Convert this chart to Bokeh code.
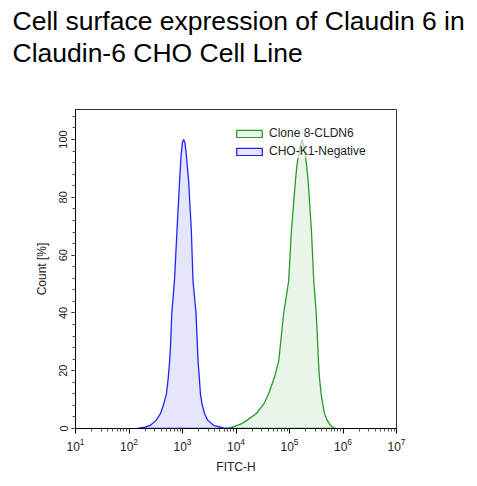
import numpy as np
from bokeh.plotting import figure
from bokeh.models import (Title, Legend, LegendItem, FixedTicker, SingleIntervalTicker,
                          Range1d, LogTickFormatter)
from bokeh.embed import file_html
from bokeh.resources import INLINE

# Histogram outlines: log10(FITC-H) and Count [%]
neg_log = [2.15, 2.21, 2.30, 2.40, 2.51, 2.59, 2.65, 2.70, 2.735, 2.76, 2.775, 2.80,
           2.85, 2.897, 2.946, 2.975, 3.00, 3.021, 3.045, 3.07, 3.114, 3.165, 3.196,
           3.253, 3.28, 3.29, 3.314, 3.335, 3.365, 3.41, 3.47, 3.58, 3.77, 3.95]
neg_count = [0.0, 0.2, 0.5, 1.1, 2.9, 5.2, 8.5, 12.0, 17.8, 23.5, 28.1, 39.8,
             51.2, 68.5, 85.8, 95.0, 99.0, 100.0, 99.0, 95.0, 85.8, 68.5, 51.2,
             39.8, 28.1, 23.5, 17.8, 12.0, 8.5, 5.2, 2.9, 1.1, 0.2, 0.0]

pos_log = [3.85, 3.89, 4.02, 4.11, 4.21, 4.38, 4.52, 4.61, 4.72, 4.80, 4.825, 4.89,
           4.985, 5.036, 5.111, 5.142, 5.19, 5.236, 5.28, 5.317, 5.348, 5.41, 5.453,
           5.50, 5.53, 5.54, 5.559, 5.591, 5.621, 5.653, 5.703, 5.765, 5.83, 5.87]
pos_count = [0.0, 0.2, 1.1, 1.7, 2.9, 5.2, 8.5, 12.0, 17.8, 23.5, 28.1, 39.7,
             51.2, 68.5, 85.8, 91.6, 97.0, 100.0, 97.0, 91.6, 85.8, 68.5, 51.2,
             39.7, 28.1, 23.5, 17.8, 12.0, 8.5, 5.2, 2.9, 1.1, 0.2, 0.0]

series_names = ["Clone 8-CLDN6", "CHO-K1-Negative"]
decades = [1, 2, 3, 4, 5, 6, 7]

FONT = "Liberation Sans"

p = figure(width=477, height=486, x_axis_type="log", output_backend="svg",
           toolbar_location=None, title=None,
           x_range=Range1d(10 ** decades[0], 10 ** decades[-1]),
           y_range=Range1d(0, 110.4),
           min_border_left=75, min_border_right=81, min_border_top=109,
           min_border_bottom=58)
p.background_fill_color = "white"
p.border_fill_color = "white"
p.outline_line_color = "#333333"
p.outline_line_width = 1
p.grid.visible = False

# Two-line title at the top-left of the page, separated from the plot frame
# by a blank spacer band
spacer = Title(text=" ", text_font_size="1px", standoff=39)
t2 = Title(text="Claudin-6 CHO Cell Line", text_font=FONT, text_font_size="26.5px",
           text_font_style="normal", text_color="black", align="left", offset=-63,
           standoff=0)
t1 = Title(text="Cell surface expression of Claudin 6 in", text_font=FONT,
           text_font_size="26.5px", text_font_style="normal", text_color="black",
           align="left", offset=-63, standoff=0)
p.add_layout(spacer, "above")
p.add_layout(t2, "above")
p.add_layout(t1, "above")

px = [10 ** v for v in pos_log]
nx = [10 ** v for v in neg_log]

r_pos = p.patch(px, pos_count, fill_color="#e9f5e9", fill_alpha=1.0,
                line_color="#2a9a2a", line_width=1.3)
r_neg = p.patch(nx, neg_count, fill_color="#e6e6fb", fill_alpha=1.0,
                line_color="#2222ff", line_width=1.3)

# X axis (log decades)
xa = p.xaxis[0]
xa.ticker = FixedTicker(ticks=[10 ** d for d in decades],
                        minor_ticks=[k * 10 ** d for d in decades[:-1] for k in range(2, 10)])
xa.formatter = LogTickFormatter()
xa.axis_label = "FITC-H"
xa.axis_label_text_font = FONT
xa.axis_label_text_font_size = "12px"
xa.axis_label_text_font_style = "normal"
xa.axis_label_text_color = "#222222"
xa.axis_label_standoff = 6
xa.major_label_text_font = FONT
xa.major_label_text_font_size = "12px"
xa.major_label_text_color = "#222222"
xa.major_label_standoff = 4
xa.major_tick_in = 0
xa.major_tick_out = 5
xa.minor_tick_in = 0
xa.minor_tick_out = 3
xa.axis_line_color = "black"
xa.major_tick_line_color = "black"
xa.minor_tick_line_color = "#555555"

# Y axis
ya = p.yaxis[0]
ya.ticker = SingleIntervalTicker(interval=20, num_minor_ticks=5)
ya.axis_label = "Count [%]"
ya.axis_label_text_font = FONT
ya.axis_label_text_font_size = "12px"
ya.axis_label_text_font_style = "normal"
ya.axis_label_text_color = "#222222"
ya.axis_label_standoff = 8
ya.major_label_orientation = "vertical"
ya.major_label_text_font = FONT
ya.major_label_text_font_size = "11px"
ya.major_label_text_color = "#222222"
ya.major_label_standoff = 4
ya.major_tick_in = 0
ya.major_tick_out = 4
ya.minor_tick_in = 0
ya.minor_tick_out = 3
ya.axis_line_color = "black"
ya.major_tick_line_color = "black"
ya.minor_tick_line_color = "#555555"

legend = Legend(items=[LegendItem(label=series_names[0], renderers=[r_pos]),
                       LegendItem(label=series_names[1], renderers=[r_neg])],
                location=(158, 270), orientation="vertical",
                padding=0, margin=0, spacing=4,
                glyph_width=32, glyph_height=9, label_height=13,
                label_standoff=4, label_text_font=FONT, label_text_font_size="12px",
                label_text_color="#222222", border_line_color=None,
                background_fill_color="white", background_fill_alpha=0.6)
p.add_layout(legend, "center")

open("out.html", "w").write(file_html(p, INLINE))
